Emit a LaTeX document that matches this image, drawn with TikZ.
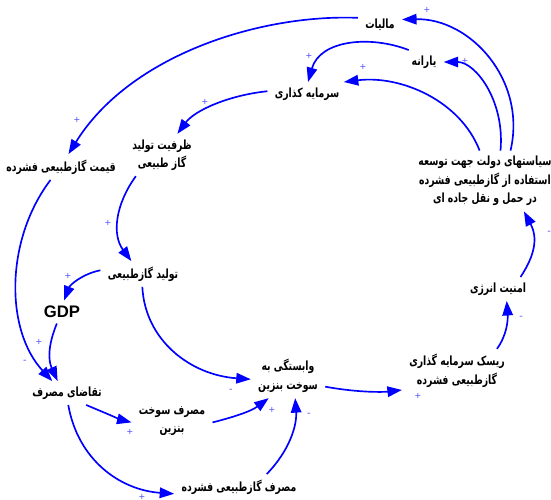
\documentclass[tikz,border=0pt]{standalone}
\usepackage{fontspec}
\usepackage{tikz}
\usetikzlibrary{arrows.meta}
\TeXXeTstate=1
\newfontfamily\farsi[Script=Arabic,FakeStretch=0.735]{DejaVu Sans}
\setsansfont{Liberation Sans}
\newcommand{\fa}[1]{\beginR #1\endR}

\begin{document}
\begin{tikzpicture}[x=0.02cm,y=-0.02cm,
  var/.style={font=\farsi\bfseries\fontsize{7.2}{10.5}\selectfont,align=center,inner xsep=4pt,inner ysep=3pt},
  sgn/.style={font=\sffamily\fontsize{6}{6}\selectfont,text=blue!65,inner sep=0pt},
  link/.style={draw=blue,line width=0.95pt,-{Triangle[length=2.9mm,width=2.1mm]}}]
  \useasboundingbox (0,0) rectangle (551,500);
  % variables
  \node[var] (tax) at (380,25) {\fa{مالیات}};
  \node[var] (subsidy) at (424,62) {\fa{یارانه}};
  \node[var] (invest) at (307,94) {\fa{سرمایه کذاری}};
  \node[var] (capacity) at (162,155) {\fa{ظرفیت تولید}\\\fa{گاز طبیعی}};
  \node[var] (price) at (61,167) {\fa{قیمت گازطبیعی فشرده}};
  \node[var] (policy) at (485,181) {\fa{سیاستهای دولت جهت توسعه}\\\fa{استفاده از گازطبیعی فشرده}\\\fa{در حمل و نقل جاده ای}};
  \node[var] (security) at (498,289) {\fa{امنیت انرژی}};
  \node[var] (risk) at (457,371) {\fa{ریسک سرمایه گذاری}\\\fa{گازطبیعی فشرده}};
  \node[var] (depend) at (288,376) {\fa{وابستگی به}\\\fa{سوخت بنزین}};
  \node[var] (production) at (143,274) {\fa{تولید گازطبیعی}};
  \node[var,font=\sffamily\bfseries\fontsize{9.5}{10}\selectfont] (gdp) at (62,312) {GDP};
  \node[var] (demand) at (67,393) {\fa{تقاضای مصرف}};
  \node[var] (petrol) at (172,421) {\fa{مصرف سوخت}\\\fa{بنزین}};
  \node[var] (cngcons) at (239,487) {\fa{مصرف گازطبیعی فشرده}};
  % links
  \draw[link] (tax.162) .. controls (260,14) and (130,55) .. (price.60);
  \draw[link] (policy.50) .. controls (527,80) and (470,18) .. (tax.14);
  \draw[link] (policy.63) .. controls (505,100) and (475,62) .. (subsidy.0);
  \draw[link] (policy.100) .. controls (460,100) and (400,75) .. (invest.18);
  \draw[link] (subsidy.142) .. controls (370,35) and (320,40) .. (invest.85);
  \draw[link] (invest.176) .. controls (230,95) and (195,110) .. (capacity.54);
  \draw[link] (capacity.219) .. controls (115,205) and (112,235) .. (production.132);
  \draw[link] (production.175) .. controls (82,274) and (70,285) .. (gdp.80);
  \draw[link] (gdp.246) .. controls (48,345) and (48,360) .. (demand.128);
  \draw[link] (price.231) .. controls (5,240) and (5,330) .. (demand.141);
  \draw[link] (production.267) .. controls (145,340) and (190,375) .. (depend.185);
  \draw[link] (demand.328) .. controls (110,415) and (122,420) .. (petrol.182);
  \draw[link] (demand.276) .. controls (78,460) and (120,490) .. (cngcons.186);
  \draw[link] (petrol.358) .. controls (230,418) and (250,412) .. (depend.229);
  \draw[link] (cngcons.25) .. controls (290,450) and (297,425) .. (depend.288);
  \draw[link] (depend.344) .. controls (360,393) and (385,392) .. (risk.199);
  \draw[link] (risk.29) .. controls (507,335) and (508,320) .. (security.306);
  \draw[link] (security.28) .. controls (535,255) and (538,238) .. (policy.322);
  % polarities
  \node[sgn] (p1) at (77,120) {+};
  \node[sgn] (p2) at (427,10) {+};
  \node[sgn] (p3) at (465,61) {+};
  \node[sgn] (p4) at (363,67) {+};
  \node[sgn] (p5) at (309,56) {+};
  \node[sgn] (p6) at (205,102) {+};
  \node[sgn] (p7) at (108,223) {+};
  \node[sgn] (p8) at (68,276) {+};
  \node[sgn] (p9) at (39,342) {+};
  \node[sgn] (p10) at (25,362) {-};
  \node[sgn] (p11) at (231,391) {-};
  \node[sgn] (p12) at (130,432) {+};
  \node[sgn] (p13) at (142,497) {+};
  \node[sgn] (p14) at (272,410) {+};
  \node[sgn] (p15) at (309,415) {-};
  \node[sgn] (p16) at (418,396) {+};
  \node[sgn] (p17) at (521,318) {-};
  \node[sgn] (p18) at (549,233) {-};
\end{tikzpicture}
\end{document}
